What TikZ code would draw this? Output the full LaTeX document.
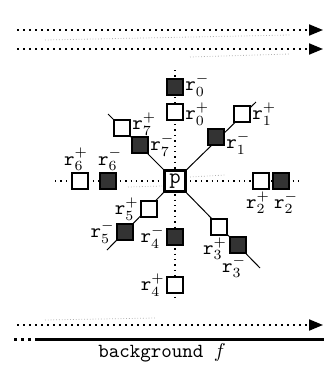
\documentclass[tikz,border=0pt]{standalone}
\usetikzlibrary{arrows.meta}
\usetikzlibrary{positioning}
\usetikzlibrary{backgrounds}

\tikzset{
	posbox/.style={draw, line width=1pt, fill=white, minimum size=8pt, inner sep=0pt},
	negbox/.style={draw, line width=1pt, fill=black!80, minimum size=8pt, inner sep=0pt},
	rlab/.style={inner sep=0.5pt, font=\fontsize{10}{12}\selectfont},
	ghost/.style={black!30, densely dotted, line width=0.4pt},
	flow/.style={dotted, line width=1pt, -{Triangle[length=7pt,width=5.5pt]}},
}

\begin{document}
\begin{tikzpicture}[x=0.5pt, y=-0.5pt]
		\useasboundingbox (0,0) rectangle (324,365);
		% centre pixel
		\node[draw, line width=1.3pt, fill=white, minimum size=10.5pt, inner sep=0pt, font=\fontsize{11}{13}\ttfamily] (p) at (175,181) {p};
		% neighbours, + open, - filled
		\node[negbox] (rm0) at (175,87) {};
		\node[posbox] (rp0) at (175,112) {};
		\node[posbox] (rp1) at (242,114) {};
		\node[negbox] (rm1) at (216,137) {};
		\node[posbox] (rp2) at (261,181) {};
		\node[negbox] (rm2) at (281,181) {};
		\node[posbox] (rp3) at (219,227) {};
		\node[negbox] (rm3) at (238,245) {};
		\node[negbox] (rm4) at (175,237) {};
		\node[posbox] (rp4) at (175,285) {};
		\node[posbox] (rp5) at (149,209) {};
		\node[negbox] (rm5) at (125,232) {};
		\node[posbox] (rp6) at (80,181) {};
		\node[negbox] (rm6) at (108,181) {};
		\node[posbox] (rp7) at (122,128) {};
		\node[negbox] (rm7) at (140,145) {};
		% labels
		\node[rlab, right=0pt of rm0, yshift=1pt] (lm0) {$\mathtt{r}_0^-$};
		\node[rlab, right=0pt of rp0, yshift=-1pt] (lp0) {$\mathtt{r}_0^+$};
		\node[rlab, right=0pt of rp1] (lp1) {$\mathtt{r}_1^+$};
		\node[rlab, right=0pt of rm1, yshift=-3pt] (lm1) {$\mathtt{r}_1^-$};
		\node[rlab, below=0pt of rp2, xshift=-1.5pt] (lp2) {$\mathtt{r}_2^+$};
		\node[rlab, below=0pt of rm2, xshift=2.5pt] (lm2) {$\mathtt{r}_2^-$};
		\node[rlab, below=0pt of rp3, xshift=-2pt] (lp3) {$\mathtt{r}_3^+$};
		\node[rlab, below=0pt of rm3, xshift=-2pt] (lm3) {$\mathtt{r}_3^-$};
		\node[rlab, left=0pt of rm4] (lm4) {$\mathtt{r}_4^-$};
		\node[rlab, left=0pt of rp4] (lp4) {$\mathtt{r}_4^+$};
		\node[rlab, left=0pt of rp5] (lp5) {$\mathtt{r}_5^+$};
		\node[rlab, left=0pt of rm5] (lm5) {$\mathtt{r}_5^-$};
		\node[rlab, above=0pt of rp6, xshift=-2pt] (lp6) {$\mathtt{r}_6^+$};
		\node[rlab, above=0pt of rm6, xshift=1pt] (lm6) {$\mathtt{r}_6^-$};
		\node[rlab, right=0pt of rp7, yshift=2pt] (lp7) {$\mathtt{r}_7^+$};
		\node[rlab, right=0pt of rm7] (lm7) {$\mathtt{r}_7^-$};
		% ends of the direction lines
		\coordinate (e0) at (175,70);
		\coordinate (e4) at (175,298);
		\coordinate (e6) at (55,181);
		\coordinate (e2) at (300,181);
		\coordinate (e1) at (256,102);
		\coordinate (e7) at (108,114);
		\coordinate (e5) at (107,250);
		\coordinate (e3) at (260,268);
		\begin{pgfonlayer}{background}
			\draw[dotted, line width=0.7pt] (e0) -- (e4);
			\draw[dotted, line width=0.7pt] (e6) -- (e2);
			\draw[line width=0.5pt] (p) -- (e1);
			\draw[line width=0.5pt] (p) -- (e7);
			\draw[line width=0.5pt] (p) -- (e5);
			\draw[line width=0.5pt] (p) -- (e3);
			% show-through of the scan
			\draw[ghost] (190,177) -- (225,175);
			\draw[ghost] (128,187) -- (162,186);
		\end{pgfonlayer}
		% flow arrows
		\coordinate (a1) at (17,30);
		\coordinate (b1) at (323,30);
		\coordinate (a2) at (17,49);
		\coordinate (b2) at (323,49);
		\coordinate (a3) at (17,325);
		\coordinate (b3) at (323,325);
		\draw[flow] (a1) -- (b1);
		\draw[flow] (a2) -- (b2);
		\draw[flow] (a3) -- (b3);
		\draw[ghost] (45,40) -- (290,35);
		\draw[ghost] (190,57) -- (290,54);
		\draw[ghost] (45,320) -- (155,318);
		% background line
		\coordinate (g0) at (14,339);
		\coordinate (g1) at (38,339);
		\coordinate (g2) at (324,339);
		\draw[dotted, line width=1.5pt] (g0) -- (g1);
		\draw[line width=1.5pt] (g1) -- (g2);
		\node[font=\fontsize{10}{12}\ttfamily] (bg) at (162,353) {background $f$};
	\end{tikzpicture}
\end{document}
